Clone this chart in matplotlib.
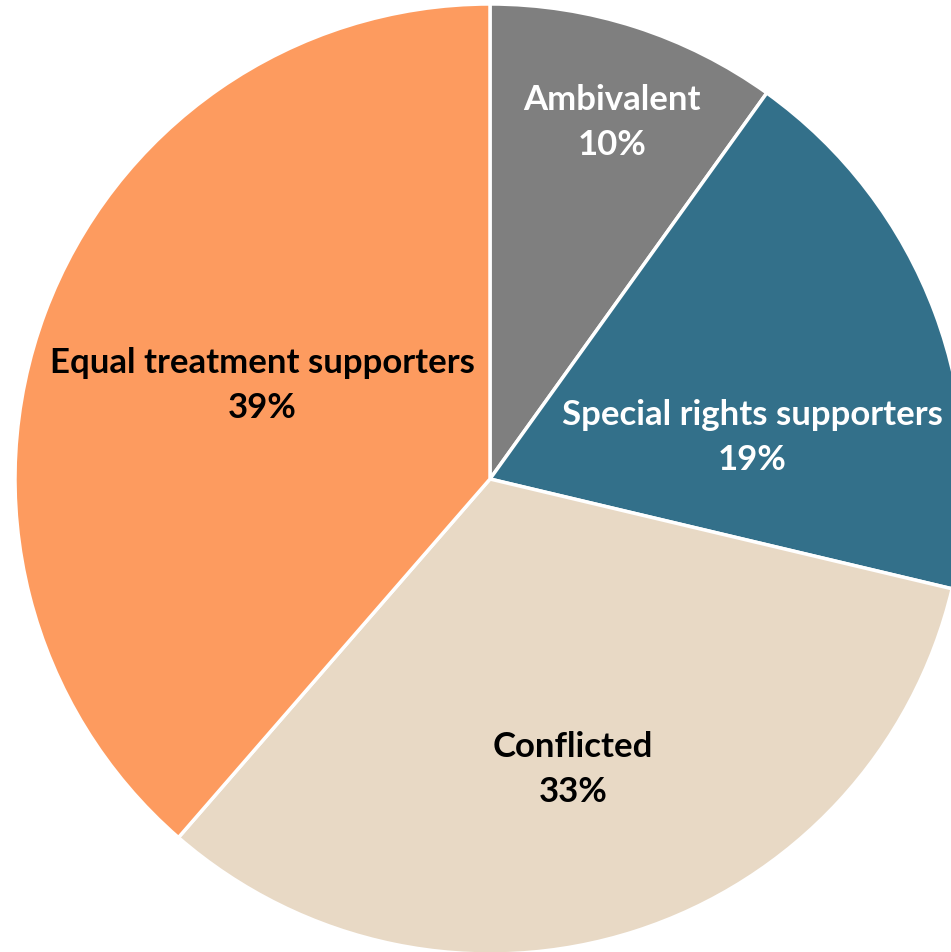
import matplotlib
matplotlib.use("Agg")
import matplotlib.pyplot as plt

categories = ["Ambivalent", "Special rights supporters", "Conflicted", "Equal treatment supporters"]
shares = [10, 19, 33, 39]
colors = ["#7f7f7f", "#33708a", "#e8d9c5", "#fd9b5f"]
text_colors = ["white", "white", "black", "black"]
# label anchor points in data units (pie radius = 1)
label_pos = [(0.257, 0.752), (0.552, 0.090), (0.175, -0.610), (-0.480, 0.198)]

W, H = 951, 953
fig = plt.figure(figsize=(W / 100, H / 100), dpi=100)
cx, cy, r = 490, 480, 475
ax = fig.add_axes([(cx - r) / W, (H - cy - r) / H, 2 * r / W, 2 * r / H])
wedges, _ = ax.pie(shares, colors=colors, startangle=90, counterclock=False,
                   radius=1, wedgeprops=dict(edgecolor="white", linewidth=2.5))
for w in wedges:
    w.set_clip_on(False)
for cat, val, tc, (x, y) in zip(categories, shares, text_colors, label_pos):
    ax.text(x, y, f"{cat}\n{val}%", ha="center", va="center", color=tc,
            fontsize=25, fontweight="bold", family="Lato", linespacing=1.5)
ax.set_xlim(-1, 1)
ax.set_ylim(-1, 1)
ax.set_aspect("equal")
ax.axis("off")
fig.savefig("out.png", dpi=100)
